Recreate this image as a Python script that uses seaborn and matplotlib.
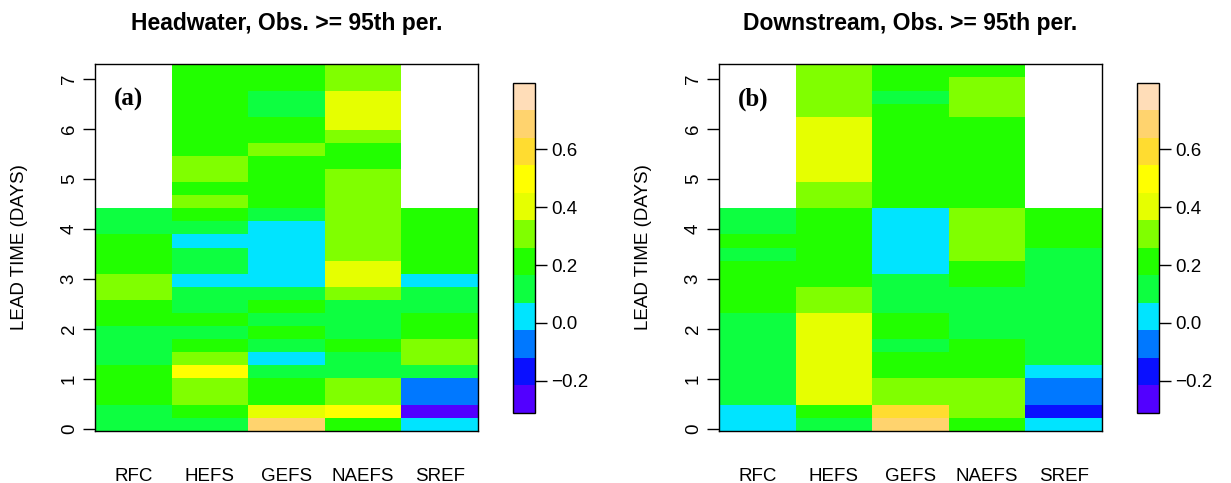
import numpy as np
import pandas as pd
import matplotlib
matplotlib.use("Agg")
import matplotlib.pyplot as plt
from matplotlib.colors import ListedColormap
import seaborn as sns

# ---------------- data ----------------
MODELS = ["RFC", "HEFS", "GEFS", "NAEFS", "SREF"]
DAY_TICKS = [0, 1, 2, 3, 4, 5, 6, 7]
CBAR_TICKS = [-0.2, 0.0, 0.2, 0.4, 0.6]
TITLES = ["Headwater, Obs. >= 95th per.", "Downstream, Obs. >= 95th per."]
PANEL_TAGS = ["(a)", "(b)"]
NA = np.nan

# values listed from the shortest lead (bottom row) to the longest (top row)
HW_RFC = [0.12, 0.13, 0.21, 0.22, 0.20, 0.14, 0.12, 0.13, 0.19, 0.21, 0.30, 0.29, 0.22, 0.20,
          0.19, 0.13, 0.14, NA, NA, NA, NA, NA, NA, NA, NA, NA, NA, NA]
HW_HEFS = [0.13, 0.21, 0.30, 0.31, 0.48, 0.30, 0.21, 0.12, 0.20, 0.13, 0.12, 0.02, 0.13, 0.12,
           0.03, 0.14, 0.21, 0.30, 0.22, 0.31, 0.29, 0.21, 0.22, 0.20, 0.21, 0.22, 0.21, 0.20]
HW_GEFS = [0.70, 0.41, 0.21, 0.20, 0.12, 0.01, 0.13, 0.20, 0.12, 0.21, 0.13, 0.02, 0.01, 0.03,
           0.02, 0.01, 0.12, 0.21, 0.22, 0.20, 0.21, 0.30, 0.21, 0.20, 0.13, 0.12, 0.21, 0.22]
HW_NAEFS = [0.21, 0.49, 0.31, 0.30, 0.13, 0.12, 0.20, 0.12, 0.13, 0.12, 0.30, 0.40, 0.41, 0.31,
            0.30, 0.29, 0.31, 0.30, 0.31, 0.29, 0.21, 0.22, 0.30, 0.41, 0.40, 0.42, 0.31, 0.30]
HW_SREF = [0.02, -0.26, -0.07, -0.08, 0.12, 0.30, 0.31, 0.21, 0.20, 0.13, 0.12, 0.03, 0.21, 0.22,
           0.20, 0.21, 0.20, NA, NA, NA, NA, NA, NA, NA, NA, NA, NA, NA]

DS_RFC = [0.02, 0.03, 0.12, 0.13, 0.12, 0.11, 0.13, 0.12, 0.14, 0.21, 0.20, 0.22, 0.21, 0.13,
          0.20, 0.12, 0.13, NA, NA, NA, NA, NA, NA, NA, NA, NA, NA, NA]
DS_HEFS = [0.13, 0.21, 0.41, 0.40, 0.42, 0.41, 0.40, 0.41, 0.42, 0.30, 0.31, 0.21, 0.20, 0.22,
           0.21, 0.20, 0.21, 0.30, 0.31, 0.41, 0.40, 0.42, 0.41, 0.40, 0.31, 0.30, 0.29, 0.31]
DS_GEFS = [0.69, 0.58, 0.30, 0.31, 0.21, 0.20, 0.13, 0.21, 0.22, 0.12, 0.13, 0.12, 0.02, 0.01,
           0.03, 0.02, 0.01, 0.21, 0.20, 0.22, 0.21, 0.20, 0.21, 0.22, 0.20, 0.13, 0.21, 0.20]
DS_NAEFS = [0.21, 0.30, 0.31, 0.29, 0.21, 0.20, 0.22, 0.13, 0.12, 0.13, 0.12, 0.20, 0.21, 0.30,
            0.31, 0.30, 0.29, 0.21, 0.20, 0.22, 0.21, 0.20, 0.21, 0.22, 0.30, 0.31, 0.30, 0.21]
DS_SREF = [0.02, -0.17, -0.07, -0.06, 0.03, 0.12, 0.13, 0.12, 0.11, 0.13, 0.12, 0.14, 0.12, 0.13,
           0.21, 0.20, 0.21, NA, NA, NA, NA, NA, NA, NA, NA, NA, NA, NA]

# ---------------- style ----------------
VMIN, VMAX = -0.31, 0.83
PALETTE = ["#5200FF", "#0A10FF", "#0078FF", "#00E4FF", "#0DFF40", "#22FF00",
           "#80FF00", "#E6FF00", "#FFFF00", "#FFDC30", "#FFD36E", "#FFDDB8"]
Y_LOW_DAYS, Y_HIGH_DAYS = -0.03, 7.29

sns.set_style("white")
plt.rcParams["font.family"] = ["Liberation Sans", "DejaVu Sans"]
plt.rcParams["axes.unicode_minus"] = True
for key in ["text.color", "axes.labelcolor", "xtick.color", "ytick.color"]:
    plt.rcParams[key] = "black"

W, H = 1231, 483
fig = plt.figure(figsize=(W / 100, H / 100), dpi=100)

cmap = ListedColormap(PALETTE)

panels = [
    (HW_RFC, HW_HEFS, HW_GEFS, HW_NAEFS, HW_SREF),
    (DS_RFC, DS_HEFS, DS_GEFS, DS_NAEFS, DS_SREF),
]

ax_left_px = [95, 719]
ax_w_px, ax_top_px, ax_bot_px = 383, 64.4, 430.7
cb_left_px = [513, 1137]
cb_w_px, cb_top_px, cb_bot_px = 22, 82.7, 412.7

FS = 13.5
for i, cols in enumerate(panels):
    ax = fig.add_axes([ax_left_px[i] / W, 1 - ax_bot_px / H, ax_w_px / W,
                       (ax_bot_px - ax_top_px) / H])
    cax = fig.add_axes([cb_left_px[i] / W, 1 - cb_bot_px / H, cb_w_px / W,
                        (cb_bot_px - cb_top_px) / H])
    df = pd.DataFrame({m: v for m, v in zip(MODELS, cols)})
    n_rows = len(df)
    sns.heatmap(df, ax=ax, cmap=cmap, vmin=VMIN, vmax=VMAX, cbar=True, cbar_ax=cax,
                xticklabels=MODELS, yticklabels=False, linewidths=0)
    ax.set_ylim(0, n_rows)
    row_days = (Y_HIGH_DAYS - Y_LOW_DAYS) / n_rows
    ax.set_yticks([(d - Y_LOW_DAYS) / row_days for d in DAY_TICKS])
    ax.set_yticklabels([str(d) for d in DAY_TICKS], rotation=90, va="center",
                       fontsize=FS, color="black")
    ax.set_xticklabels(MODELS, rotation=0, fontsize=FS, color="black")
    ax.tick_params(axis="y", left=True, length=8.4, width=1, color="black", pad=4)
    ax.tick_params(axis="x", bottom=False, length=0, pad=27)
    for sp in ax.spines.values():
        sp.set_visible(True)
        sp.set_color("black")
        sp.set_linewidth(1)
    ax.set_xlabel("")
    ax.set_ylabel("LEAD TIME (DAYS)", fontsize=FS, color="black")
    ax.yaxis.set_label_coords(-0.175, 0.5)
    ax.text(0.5, 1.113, TITLES[i], transform=ax.transAxes, ha="center", va="center",
            fontsize=16.5, fontweight="bold", color="black")
    ax.text(0.088, 0.905, PANEL_TAGS[i], transform=ax.transAxes, ha="center",
            va="center", fontsize=18, fontweight="bold", color="black",
            family=["Liberation Serif", "DejaVu Serif"])

    cb = ax.collections[0].colorbar
    cb.set_ticks(CBAR_TICKS)
    cb.set_ticklabels([f"{t:.1f}".replace("-", "\u2212") for t in CBAR_TICKS])
    cb.outline.set_edgecolor("black")
    cb.outline.set_linewidth(1)
    cax.tick_params(right=True, length=8.4, width=1, color="black", labelsize=FS,
                    labelcolor="black", pad=3)

fig.savefig("out.png", dpi=100)
